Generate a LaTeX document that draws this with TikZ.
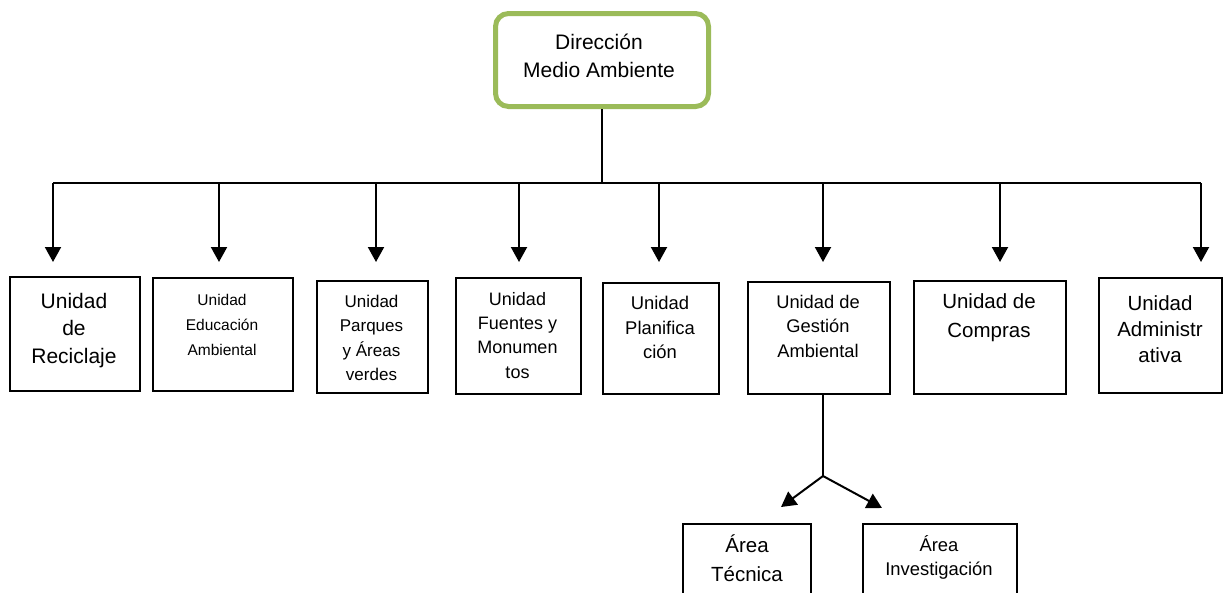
\documentclass[tikz,border=0pt]{standalone}
\usepackage{fontspec}
\setmainfont{Liberation Sans}
\usetikzlibrary{arrows.meta}
\definecolor{dirgreen}{HTML}{9BBB59}
\newcommand{\fs}[2]{\fontsize{#1}{#2}\selectfont}
\tikzset{
  ubox/.style={draw=black, line width=2pt, rectangle, inner sep=0pt, anchor=north west},
  dirbox/.style={draw=dirgreen, line width=5pt, rounded corners=13pt, rectangle, inner sep=0pt, anchor=north west, fill=white},
  utext/.style={anchor=north, inner sep=0pt, align=center, text=black},
  conn/.style={line width=2pt, draw=black},
  arr/.style={line width=2pt, draw=black, -{Triangle[length=15pt,width=16pt]}}
}
\begin{document}
\begin{tikzpicture}[x=1pt,y=-1pt]
\useasboundingbox (0,0) rectangle (1223,592);
\clip (0,0) rectangle (1223,592);
% top
\node[dirbox, minimum width=213, minimum height=93] (dir) at (493,11) {};
\node[utext, font=\fs{21}{28}] (dirt) at (599,34) {Dirección\\Medio Ambiente};
% bar
\coordinate (bc) at (602,183);
\coordinate (bl) at (53,183);
\coordinate (br) at (1201,183);
\draw[conn] (dir.south -| bc) -- (bc);
\draw[conn] (bl) -- (br);
% unit boxes
\node[ubox, minimum width=130, minimum height=114] (u1) at (9,276) {};
\node[ubox, minimum width=140, minimum height=113] (u2) at (152,277) {};
\node[ubox, minimum width=111, minimum height=112] (u3) at (316,280) {};
\node[ubox, minimum width=125, minimum height=116] (u4) at (455,277) {};
\node[ubox, minimum width=116, minimum height=111] (u5) at (602,282) {};
\node[ubox, minimum width=142, minimum height=112] (u6) at (747,281) {};
\node[ubox, minimum width=152, minimum height=113] (u7) at (913,280) {};
\node[ubox, minimum width=123, minimum height=115] (u8) at (1098,277) {};
% texts
\node[utext, font=\fs{21}{27.5}] (t1) at (74,293) {Unidad\\de\\Reciclaje};
\node[utext, font=\fs{15.5}{25}] (t2) at (222,294) {Unidad\\Educación\\Ambiental};
\node[utext, font=\fs{17}{24.3}] (t3) at (371.5,295) {Unidad\\Parques\\y Áreas\\verdes};
\node[utext, font=\fs{18}{24.3}] (t4) at (517.5,292) {Unidad\\Fuentes y\\Monumen\\tos};
\node[utext, font=\fs{18.4}{24.5}] (t5) at (660,296) {Unidad\\Planifica\\ción};
\node[utext, font=\fs{18.3}{24.5}] (t6) at (818,295) {Unidad de\\Gestión\\Ambiental};
\node[utext, font=\fs{20.5}{29}] (t7) at (989,293) {Unidad de\\Compras};
\node[utext, font=\fs{20.5}{26}] (t8) at (1160,295) {Unidad\\Administr\\ativa};
% arrow tips
\foreach \i/\x in {1/53,2/219,3/376,4/519,5/659,6/823,7/1000,8/1201}{
  \coordinate (d\i) at (\x,183);
  \coordinate (e\i) at (\x,262);
  \draw[arr] (d\i) -- (e\i);
}
% sub areas
\coordinate (j) at (823,476);
\coordinate (al) at (781,507);
\coordinate (ar) at (882,508);
\draw[conn] (j |- u6.south) -- (j);
\draw[arr] (j) -- (al);
\draw[arr] (j) -- (ar);
\node[ubox, minimum width=128, minimum height=80] (a1) at (682,523) {};
\node[ubox, minimum width=154, minimum height=80] (a2) at (862,523) {};
\node[utext, font=\fs{20.5}{29}] (at1) at (747,535) {Área\\Técnica};
\node[utext, font=\fs{18.4}{24}] (at2) at (939,535) {Área\\Investigación};
\end{tikzpicture}
\end{document}
